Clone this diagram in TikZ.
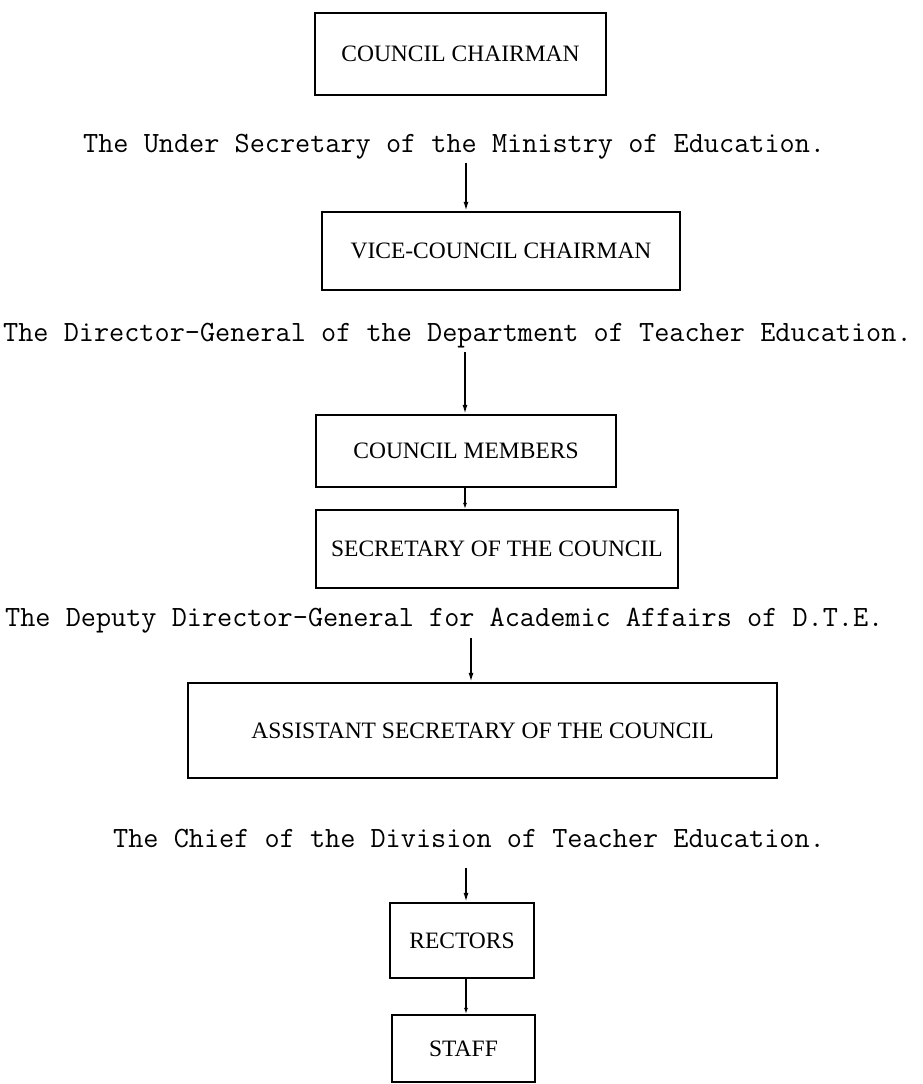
\documentclass[tikz,border=0pt]{standalone}
\usepackage{fontspec}
\setmainfont{Liberation Serif}
\usetikzlibrary{arrows.meta}
\begin{document}
\begin{tikzpicture}[x=1pt,y=-1pt,
  orgbox/.style={draw,line width=2.2pt,inner sep=0pt,minimum width=#1,
    font=\fontsize{23.5}{26}\selectfont},
  label/.style={anchor=base west,inner sep=0pt,font=\ttfamily\fontsize{29.4}{31}\selectfont\addfontfeatures{FakeBold=1.2}},
  arr/.style={line width=1.6pt,-{Latex[length=9pt,width=5pt]}},
  link/.style={line width=1.6pt,-{Latex[length=6pt,width=4pt]}}]
\useasboundingbox (0,0) rectangle (923,1084);
% boxes
\node[orgbox=291pt,minimum height=82pt] (b1) at (460.5,54) {COUNCIL CHAIRMAN};
\node[orgbox=358pt,minimum height=78pt] (b2) at (501,251) {VICE-COUNCIL CHAIRMAN};
\node[orgbox=300pt,minimum height=72pt] (b3) at (466,451) {COUNCIL MEMBERS};
\node[orgbox=362pt,minimum height=78pt] (b4) at (497,549) {SECRETARY OF THE COUNCIL};
\node[orgbox=589pt,minimum height=95pt] (b5) at (482.5,730.5) {ASSISTANT SECRETARY OF THE COUNCIL};
\node[orgbox=144pt,minimum height=75pt] (b6) at (462,940.5) {RECTORS};
\node[orgbox=143pt,minimum height=67pt] (b7) at (463.5,1048.5) {STAFF};
% labels
\node[label] (l1) at (83,152) {The Under Secretary of the Ministry of Education.};
\node[label] (l2) at (3,341) {The Director-General of the Department of Teacher Education.};
\node[label] (l3) at (5,626) {The Deputy Director-General for Academic Affairs of D.T.E.};
\node[label] (l4) at (113,847) {The Chief of the Division of Teacher Education.};
% connectors
\coordinate (a1) at (466,163);
\coordinate (a2) at (465,352);
\coordinate (a4) at (471,638);
\coordinate (a5) at (466,868);
\draw[arr] (a1) -- (a1 |- b2.north);
\draw[arr] (a2) -- (a2 |- b3.north);
\draw[link] (b3.south -| a2) -- (a2 |- b4.north);
\draw[arr] (a4) -- (a4 |- b5.north);
\draw[arr] (a5) -- (a5 |- b6.north);
\draw[link] (b6.south -| a5) -- (a5 |- b7.north);
\end{tikzpicture}
\end{document}
